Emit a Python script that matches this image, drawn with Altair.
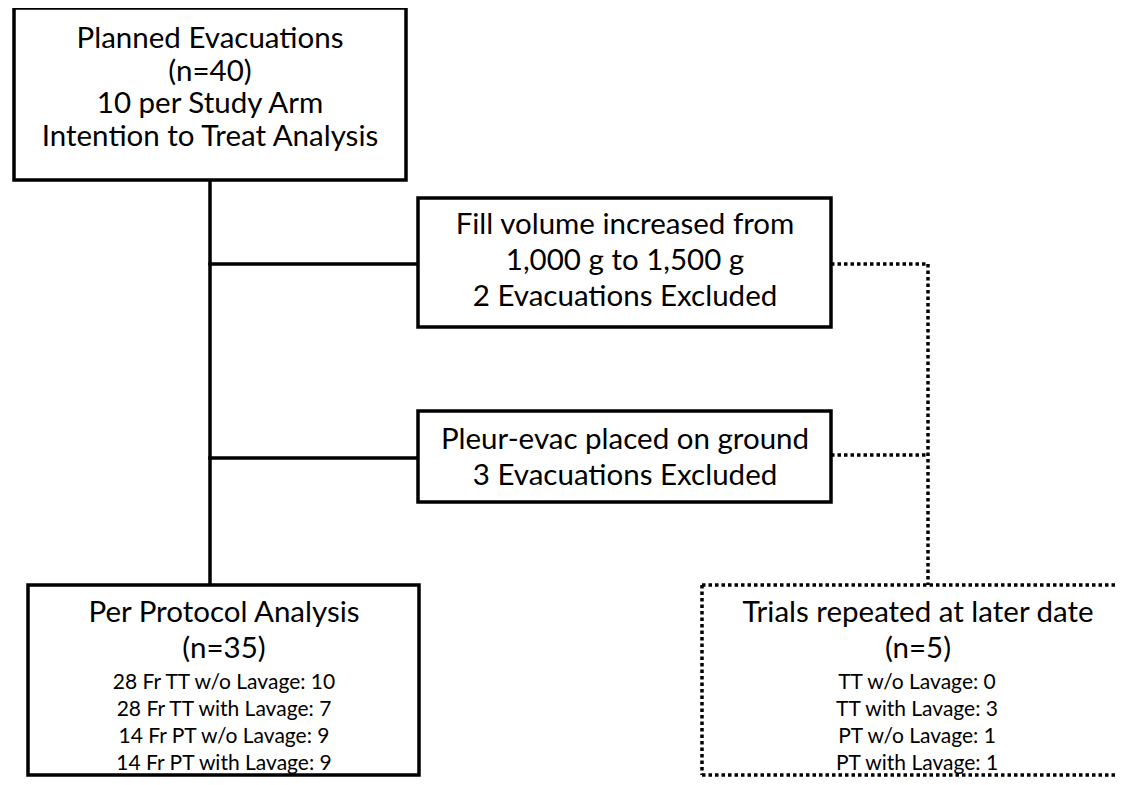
import altair as alt
import pandas as pd

# ---- content ----
top_lines = ["Planned Evacuations", "(n=40)", "10 per Study Arm", "Intention to Treat Analysis"]
fill_lines = ["Fill volume increased from", "1,000 g to 1,500 g", "2 Evacuations Excluded"]
ground_lines = ["Pleur-evac placed on ground", "3 Evacuations Excluded"]
pp_title = "Per Protocol Analysis"
pp_n = 35
pp_arms = ["28 Fr TT w/o Lavage", "28 Fr TT with Lavage", "14 Fr PT w/o Lavage", "14 Fr PT with Lavage"]
pp_counts = [10, 7, 9, 9]
rep_title = "Trials repeated at later date"
rep_n = 5
rep_arms = ["TT w/o Lavage", "TT with Lavage", "PT w/o Lavage", "PT with Lavage"]
rep_counts = [0, 3, 1, 1]

# ---- layout (diagram geometry, screen-like coordinates) ----
W, H = 1108, 769
X0, Y0 = 8, 8
BIG, SMALL = 29.5, 21
FONT = "Lato"
BOTTOM = 775

boxes = pd.DataFrame([
    dict(x=14, x2=406, y=8, y2=180),        # planned
    dict(x=418, x2=831, y=198, y2=327),     # fill volume
    dict(x=418, x2=831, y=411, y2=502),     # ground
    dict(x=28, x2=419, y=585, y2=BOTTOM),   # per protocol
])

solid = pd.DataFrame([
    dict(x=210, x2=210, y=180, y2=585),
    dict(x=210, x2=418, y=264, y2=264),
    dict(x=210, x2=418, y=458, y2=458),
])

dotted = pd.DataFrame([
    dict(x=831, x2=928, y=264, y2=264),
    dict(x=831, x2=928, y=455, y2=455),
    dict(x=928, x2=928, y=264, y2=585),
    dict(x=702, x2=1124, y=585, y2=585),
    dict(x=702, x2=702, y=585, y2=BOTTOM),
    dict(x=702, x2=1124, y=BOTTOM, y2=BOTTOM),
])

rows = []
for t, yy in zip(top_lines, [39, 72, 104, 137]):
    rows.append(dict(x=210, y=yy, text=t, fs=BIG))
for t, yy in zip(fill_lines, [225, 261, 297]):
    rows.append(dict(x=625, y=yy, text=t, fs=BIG))
for t, yy in zip(ground_lines, [440, 476]):
    rows.append(dict(x=625, y=yy, text=t, fs=BIG))
rows.append(dict(x=224, y=613, text=pp_title, fs=BIG))
rows.append(dict(x=224, y=649, text=f"(n={pp_n})", fs=BIG))
for a, c, yy in zip(pp_arms, pp_counts, [683, 710, 737, 764]):
    rows.append(dict(x=224, y=yy, text=f"{a}: {c}", fs=SMALL))
rows.append(dict(x=918, y=613, text=rep_title, fs=BIG))
rows.append(dict(x=918, y=649, text=f"(n={rep_n})", fs=BIG))
for a, c, yy in zip(rep_arms, rep_counts, [683, 710, 737, 764]):
    rows.append(dict(x=917, y=yy, text=f"{a}: {c}", fs=SMALL))
texts = pd.DataFrame(rows)

xs = alt.Scale(domain=[X0, X0 + W], nice=False, zero=False)
ys = alt.Scale(domain=[Y0, Y0 + H], nice=False, zero=False, reverse=True)

def X(f="x"):
    return alt.X(f"{f}:Q", scale=xs, axis=None)

def Y(f="y"):
    return alt.Y(f"{f}:Q", scale=ys, axis=None)

solid_layer = alt.Chart(solid).mark_rule(color="black", strokeWidth=3.5, strokeCap="square").encode(
    x=X(), x2="x2:Q", y=Y(), y2="y2:Q")

dotted_layer = alt.Chart(dotted).mark_rule(color="black", strokeWidth=3.5, strokeDash=[3.5, 3], strokeCap="butt").encode(
    x=X(), x2="x2:Q", y=Y(), y2="y2:Q")

box_layer = alt.Chart(boxes).mark_rect(fill="white", stroke="black", strokeWidth=3.5).encode(
    x=X(), x2="x2:Q", y=Y(), y2="y2:Q")

text_layer = alt.Chart(texts).mark_text(font=FONT, color="black", align="center", baseline="middle").encode(
    x=X(), y=Y(), text="text:N", size=alt.Size("fs:Q", scale=None, legend=None))

chart = alt.layer(solid_layer, dotted_layer, box_layer, text_layer).properties(
    width=W, height=H, padding=0, autosize=alt.AutoSizeParams(type="none"),
    background="white",
).configure_view(stroke=None)

chart.save("out.html", embed_options={"renderer": "svg", "actions": False})
